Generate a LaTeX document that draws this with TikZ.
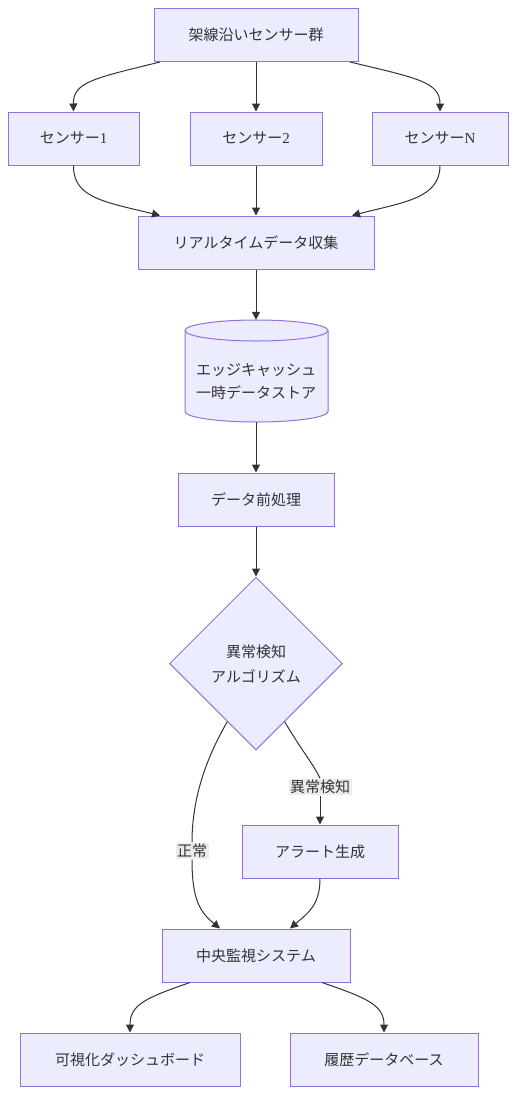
\documentclass[tikz,border=0pt]{standalone}
\usepackage{fontspec}
\setmainfont{Noto Sans CJK JP}
\newfontfamily\latin{Liberation Serif}
\usetikzlibrary{arrows.meta,calc,shapes.geometric}
\definecolor{mfill}{HTML}{ECECFF}
\definecolor{mstroke}{HTML}{9370DB}
\definecolor{mline}{HTML}{333333}
\definecolor{mlabel}{HTML}{E8E8E8}
\begin{document}
\begin{tikzpicture}[x=1pt,y=-1pt,
  every node/.style={font=\fontsize{15}{18}\selectfont, text=mline},
  box/.style={draw=mstroke, fill=mfill, line width=1pt, inner sep=0pt, minimum height=53pt},
  edge/.style={draw=mline, line width=1pt, -{Triangle[length=8pt,width=8pt]}},
  elabel/.style={fill=mlabel, fill opacity=0.85, text opacity=1, inner sep=1.5pt}]
\useasboundingbox (0,0) rectangle (516,1095);
\fill[white] (0,0) rectangle (516,1095);

\node[box, minimum width=204pt] (top) at (256,35) {架線沿いセンサー群};
\node[box, minimum width=131pt] (s1) at (73.5,138.5) {センサー{\latin 1}};
\node[box, minimum width=132pt] (s2) at (256,138.5) {センサー{\latin 2}};
\node[box, minimum width=136pt] (sn) at (440,138.5) {センサー{\latin N}};
\node[box, minimum width=236pt] (rt) at (256,242.5) {リアルタイムデータ収集};

% cylinder
\path[draw=mstroke, fill=mfill, line width=1pt]
  (185,330.5) -- (185,411.5) arc[start angle=180, end angle=0, x radius=71.5, y radius=10.5]
  -- (328,330.5) arc[start angle=0, end angle=-180, x radius=71.5, y radius=10.5] -- cycle;
\draw[mstroke, line width=1pt] (185,330.5) arc[start angle=180, end angle=0, x radius=71.5, y radius=10.5];
\node[inner sep=0pt, minimum width=143pt, minimum height=102pt] (cyl) at (256,371) {};
\node[align=center, inner sep=0pt, font=\fontsize{15}{23}\selectfont] (cyltext) at (256,381.5) {エッジキャッシュ\\一時データストア};

\node[box, minimum width=156pt] (pre) at (256,499.5) {データ前処理};
\node[diamond, draw=mstroke, fill=mfill, line width=1pt, inner sep=0pt, minimum width=173pt, minimum height=173pt] (algo) at (256,663.5) {};
\node[align=center, inner sep=0pt, font=\fontsize{15}{25}\selectfont] (algotext) at (256,664.5) {異常検知\\アルゴリズム};
\node[box, minimum width=156pt] (alert) at (320,851.5) {アラート生成};
\node[box, minimum width=188pt] (central) at (256,955.5) {中央監視システム};
\node[box, minimum width=220pt] (dash) at (130,1059.5) {可視化ダッシュボード};
\node[box, minimum width=188pt] (hist) at (384,1059.5) {履歴データベース};

% edges
\draw[edge] ([xshift=-96pt]top.south) .. controls (95,78) and (73,82) .. (s1.north);
\draw[edge] (top.south) -- (s2.north);
\draw[edge] ([xshift=94pt]top.south) .. controls (417,78) and (440,82) .. (sn.north);

\draw[edge] (s1.south) .. controls (73,198) and (105,202) .. ([xshift=-96pt]rt.north);
\draw[edge] (s2.south) -- (rt.north);
\draw[edge] (sn.south) .. controls (440,198) and (405,202) .. ([xshift=96pt]rt.north);

\draw[edge] (rt.south) -- (cyl.north);
\draw[edge] (cyl.south) -- (pre.north);
\draw[edge] (pre.south) -- (algo.north);

\node[elabel] (lnormal) at (192,851) {正常};
\node[elabel] (lanom) at (320,787) {異常検知};
\draw[draw=mline, line width=1pt] ($(algo.west)!0.67!(algo.south)$) .. controls (205,760) and (192,800) .. (lnormal.north);
\draw[edge] (lnormal.south) .. controls (192,900) and (200,912) .. ([xshift=-36pt]central.north);
\draw[draw=mline, line width=1pt] ($(algo.east)!0.67!(algo.south)$) .. controls (300,748) and (314,765) .. (lanom.north);
\draw[edge] (lanom.south) -- (alert.north);
\draw[edge] (alert.south) .. controls (320,905) and (308,913) .. ([xshift=34pt]central.north);

\draw[edge] ([xshift=-66pt]central.south) .. controls (145,998) and (130,1005) .. (dash.north);
\draw[edge] ([xshift=66pt]central.south) .. controls (367,998) and (384,1005) .. (hist.north);
\end{tikzpicture}
\end{document}
